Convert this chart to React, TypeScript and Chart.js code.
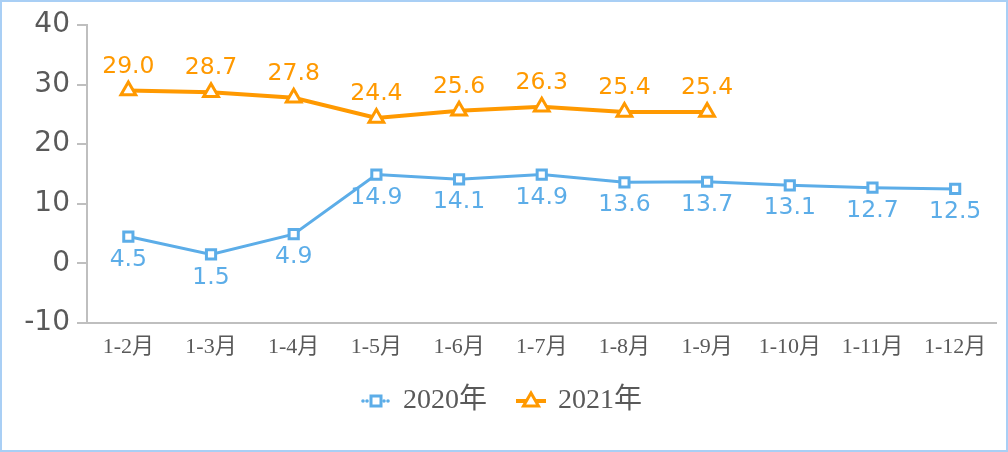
import React, { useEffect, useRef } from "react";
import { Chart, registerables } from "chart.js";
Chart.register(...registerables);

const categories = ["1-2月", "1-3月", "1-4月", "1-5月", "1-6月", "1-7月", "1-8月", "1-9月", "1-10月", "1-11月", "1-12月"];
const values2020 = [4.5, 1.5, 4.9, 14.9, 14.1, 14.9, 13.6, 13.7, 13.1, 12.7, 12.5];
const values2021: (number | null)[] = [29.0, 28.7, 27.8, 24.4, 25.6, 26.3, 25.4, 25.4, null, null, null];
const seriesNames = ["2020年", "2021年"];
const yMin = -10;
const yMax = 40;
const yStep = 10;

const BLUE = "#5CADE8";
const ORANGE = "#FF9900";
const GRAY_TEXT = "#595959";
const AXIS = "#BFBFBF";

const dataLabelPlugin = {
  id: "dataLabels",
  afterDatasetsDraw(chart: any) {
    const ctx = chart.ctx;
    ctx.save();
    ctx.font = "23.5px 'DejaVu Sans'";
    ctx.textAlign = "center";
    ctx.textBaseline = "middle";
    chart.data.datasets.forEach((ds: any, i: number) => {
      const meta = chart.getDatasetMeta(i);
      meta.data.forEach((pt: any, j: number) => {
        const v = ds.data[j];
        if (v === null || v === undefined) return;
        ctx.fillStyle = ds.borderColor;
        const off = i === 0 ? 23 : -24;
        ctx.fillText(Number(v).toFixed(1), pt.x, pt.y + off);
      });
    });
    ctx.restore();
  },
};

const frameLegendPlugin = {
  id: "frameLegend",
  afterDraw(chart: any) {
    const ctx = chart.ctx;
    ctx.save();
    // outer frame
    ctx.strokeStyle = "#A9CFF5";
    ctx.lineWidth = 2;
    ctx.strokeRect(1, 1, chart.width - 2, chart.height - 2);

    const cy = 401;
    // 2020 legend
    ctx.fillStyle = BLUE;
    ctx.strokeStyle = BLUE;
    for (const x of [363, 367, 384, 388]) {
      ctx.beginPath();
      ctx.arc(x, cy, 1.8, 0, Math.PI * 2);
      ctx.fill();
    }
    ctx.lineWidth = 3;
    ctx.fillStyle = "#fff";
    ctx.fillRect(371, 396, 10, 10);
    ctx.strokeRect(371, 396, 10, 10);

    // 2021 legend
    ctx.strokeStyle = ORANGE;
    ctx.lineWidth = 4;
    ctx.beginPath();
    ctx.moveTo(516, cy);
    ctx.lineTo(546, cy);
    ctx.stroke();
    ctx.lineWidth = 3;
    ctx.fillStyle = "#fff";
    ctx.beginPath();
    ctx.moveTo(531, 393);
    ctx.lineTo(538.5, 406);
    ctx.lineTo(523.5, 406);
    ctx.closePath();
    ctx.fill();
    ctx.stroke();

    ctx.fillStyle = GRAY_TEXT;
    ctx.font = "28px 'Liberation Serif', 'Noto Sans CJK SC'";
    ctx.textAlign = "left";
    ctx.textBaseline = "middle";
    ctx.fillText(seriesNames[0], 403, cy);
    ctx.fillText(seriesNames[1], 558, cy);
    ctx.restore();
  },
};

export default function App() {
  const ref = useRef<HTMLCanvasElement | null>(null);
  useEffect(() => {
    if (!ref.current) return;
    const chart = new Chart(ref.current, {
      type: "line",
      data: {
        labels: categories,
        datasets: [
          {
            label: seriesNames[0],
            data: values2020,
            borderColor: BLUE,
            backgroundColor: "#ffffff",
            borderWidth: 3,
            pointStyle: "rect",
            pointRadius: 6.5,
            pointBorderWidth: 3,
            pointBackgroundColor: "#ffffff",
            pointBorderColor: BLUE,
            tension: 0,
          },
          {
            label: seriesNames[1],
            data: values2021,
            borderColor: ORANGE,
            backgroundColor: "#ffffff",
            borderWidth: 4,
            pointStyle: "triangle",
            pointRadius: 8.5,
            pointBorderWidth: 3,
            pointBackgroundColor: "#ffffff",
            pointBorderColor: ORANGE,
            tension: 0,
            spanGaps: false,
          },
        ],
      },
      options: {
        responsive: true,
        maintainAspectRatio: false,
        animation: false,
        layout: { padding: { top: 25, right: 11, left: 0, bottom: 0 } },
        plugins: {
          legend: { display: false },
          tooltip: { enabled: false },
        },
        scales: {
          x: {
            offset: true,
            grid: { display: false },
            border: { display: true, color: AXIS, width: 2 },
            ticks: {
              color: GRAY_TEXT,
              font: { family: "'Liberation Serif', 'Noto Sans CJK SC'", size: 22 },
              padding: 3,
              maxRotation: 0,
              autoSkip: false,
            },
            afterFit: (s: any) => {
              s.height = 129;
            },
          },
          y: {
            min: yMin,
            max: yMax,
            grid: { drawOnChartArea: false, drawTicks: true, tickLength: 10, color: AXIS, lineWidth: 2 },
            border: { display: true, color: AXIS, width: 2 },
            ticks: {
              stepSize: yStep,
              color: GRAY_TEXT,
              font: { family: "'DejaVu Sans'", size: 28 },
              padding: 7,
            },
            afterFit: (s: any) => {
              s.width = 87;
            },
          },
        },
      },
      plugins: [dataLabelPlugin, frameLegendPlugin],
    });
    return () => chart.destroy();
  }, []);
  return (
    <div style={{ position: "fixed", left: 0, top: 0, width: 1008, height: 452, background: "#fff" }}>
      <canvas ref={ref} />
    </div>
  );
}
